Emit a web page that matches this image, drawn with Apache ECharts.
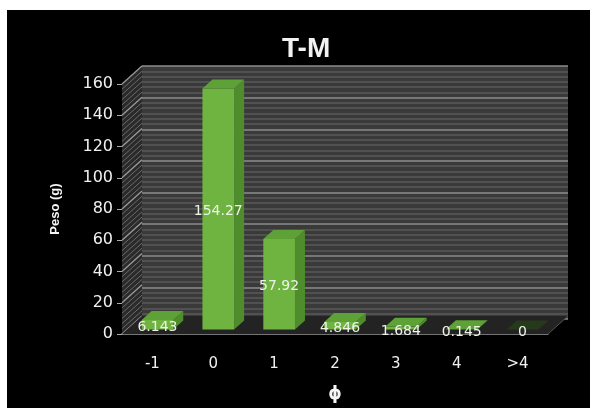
<!DOCTYPE html>
<html>
<head>
<meta charset="utf-8">
<script src="https://cdn.jsdelivr.net/npm/echarts@6/dist/echarts.min.js"></script>
<style>
  html, body { margin: 0; padding: 0; background: #ffffff; }
  #chart { position: absolute; left: 7px; top: 10px; width: 583px; height: 398px; }
</style>
</head>
<body>
<div id="chart"></div>
<script>
// ---- data ----
const categories = ['-1', '0', '1', '2', '3', '4', '>4'];
const pesoValues = [6.143, 154.27, 57.92, 4.846, 1.684, 0.145, 0];
const yMin = 0, yMax = 160, yInterval = 20;
const titleText = 'T-M';
const yAxisName = 'Peso (g)';
const xAxisName = 'ϕ';

// ---- style ----
const DX = 20, DY = -18;            // depth offset of the 3D box
const MINOR = 6;                    // stripes per major interval
const FONT = 'DejaVu Sans';

const chart = echarts.init(document.getElementById('chart'));

function renderWalls(params, api) {
  const cs = params.coordSys;
  const xL = cs.x, xR = cs.x + cs.width;
  const yB = cs.y + cs.height, yT = cs.y;
  const children = [];
  // left wall
  children.push({
    type: 'polygon',
    shape: { points: [[xL, yT], [xL, yB], [xL + DX, yB + DY], [xL + DX, yT + DY]] },
    style: { fill: '#2a2a2a' }
  });
  const step = yInterval / MINOR;
  for (let k = 0; k * step <= yMax - yMin + 1e-6; k++) {
    const v = yMin + k * step;
    const y = api.coord([0, v])[1];
    const major = k % MINOR === 0;
    children.push({
      type: 'line',
      shape: { x1: xL, y1: y, x2: xL + DX, y2: y + DY },
      style: { stroke: major ? '#9a9a9a' : '#6a6a6a', lineWidth: major ? 1.3 : 1 }
    });
  }
  // floor
  children.push({
    type: 'polygon',
    shape: { points: [[xL, yB], [xR, yB], [xR + DX, yB + DY], [xL + DX, yB + DY]] },
    style: { fill: '#232323' }
  });
  children.push({
    type: 'line',
    shape: { x1: xR, y1: yB, x2: xR + DX, y2: yB + DY },
    style: { stroke: '#555', lineWidth: 1 }
  });
  return { type: 'group', children: children };
}

function renderBar(params, api) {
  const i = api.value(0), v = api.value(1);
  const p0 = api.coord([i, 0]);
  const p1 = api.coord([i, v]);
  const bw = api.size([1, 0])[0] * 0.52;
  const x0 = p0[0] - bw / 2 + DX * 0.25;
  const x1 = x0 + bw;
  const yb = p0[1] + DY * 0.25;
  const yt = p1[1] + DY * 0.25;
  const hx = DX * 0.5, hy = DY * 0.5;
  return {
    type: 'group',
    children: [
      { type: 'polygon',
        shape: { points: [[x1, yb], [x1, yt], [x1 + hx, yt + hy], [x1 + hx, yb + hy]] },
        style: { fill: '#4f8c2c' } },
      { type: 'rect',
        shape: { x: x0, y: yt, width: bw, height: Math.max(0, yb - yt) },
        style: { fill: '#6fb441' } },
      { type: 'polygon',
        shape: { points: [[x0, yt], [x1, yt], [x1 + hx, yt + hy], [x0 + hx, yt + hy]] },
        style: { fill: v > 0 ? '#5ea137' : '#26391b' } },
      { type: 'text',
        z2: 10,
        style: {
          x: (x0 + x1) / 2, y: (yt + yb) / 2 + (v < 20 ? 3 : 2),
          text: String(v), align: 'center', verticalAlign: 'middle',
          fill: '#eef3ea', fontFamily: FONT, fontSize: 14
        } }
    ]
  };
}

const option = {
  backgroundColor: '#000000',
  animation: false,
  title: {
    text: titleText,
    left: 270, top: 20,
    textStyle: { color: '#f2f2f2', fontSize: 28, fontWeight: 'bold', fontFamily: 'Liberation Sans' }
  },
  grid: [
    { // back wall
      left: 115 + DX, top: 74 + DY, width: 426, height: 253,
      show: true, backgroundColor: '#3a3a3a', borderWidth: 0
    },
    { // front plane
      left: 115, top: 74, width: 426, height: 253
    }
  ],
  xAxis: [
    { gridIndex: 0, type: 'category', data: categories, show: false },
    { gridIndex: 1, type: 'category', data: categories,
      axisLine: { show: true, lineStyle: { color: '#9a9a9a', width: 1.5 } },
      axisTick: { show: false },
      axisLabel: { color: '#f0f0f0', fontFamily: FONT, fontSize: 15, margin: 23 },
      name: xAxisName, nameLocation: 'middle', nameGap: 52,
      nameTextStyle: { color: '#f5f5f5', fontSize: 17, fontWeight: 'bold', fontFamily: FONT }
    }
  ],
  yAxis: [
    { gridIndex: 0, type: 'value', min: yMin, max: yMax, interval: yInterval,
      axisLine: { show: false }, axisTick: { show: false }, axisLabel: { show: false },
      splitLine: { show: true, lineStyle: { color: '#8c8c8c', width: 1.5 } },
      minorTick: { show: false, splitNumber: MINOR },
      minorSplitLine: { show: true, lineStyle: { color: '#595959', width: 1.5 } }
    },
    { gridIndex: 1, type: 'value', min: yMin, max: yMax, interval: yInterval,
      axisLine: { show: true, lineStyle: { color: '#8a8a8a' } },
      axisTick: { show: true, length: 5, lineStyle: { color: '#aaaaaa' } },
      splitLine: { show: false },
      axisLabel: { color: '#f0f0f0', fontFamily: FONT, fontSize: 16, margin: 9 },
      name: yAxisName, nameLocation: 'middle', nameGap: 60, nameRotate: 90,
      nameTextStyle: { color: '#f5f5f5', fontSize: 13, fontWeight: 'bold', fontFamily: 'Liberation Sans' }
    }
  ],
  series: [
    { type: 'custom', xAxisIndex: 1, yAxisIndex: 1, z: 1, silent: true,
      renderItem: renderWalls, data: [[0, 0]] },
    { type: 'custom', xAxisIndex: 1, yAxisIndex: 1, z: 3,
      renderItem: renderBar,
      encode: { x: 0, y: 1 },
      data: pesoValues.map((v, i) => [i, v]) }
  ]
};
chart.setOption(option);
</script>
</body>
</html>
